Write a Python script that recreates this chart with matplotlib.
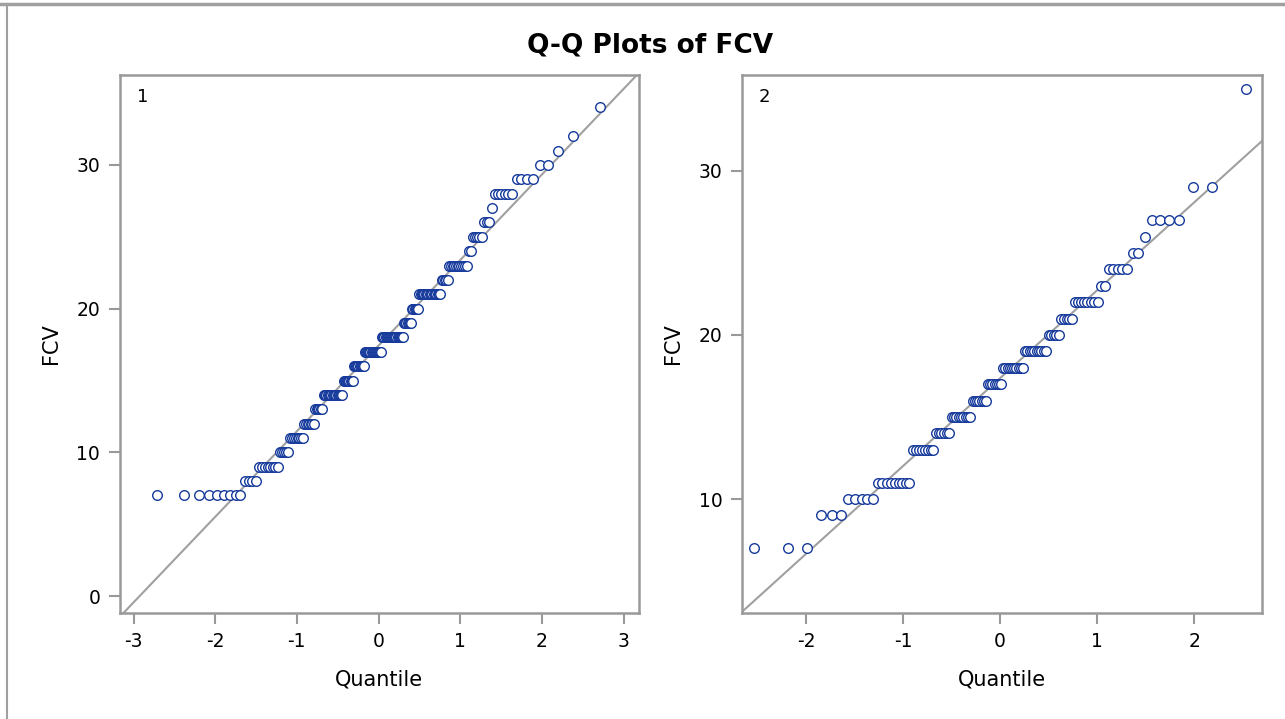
# Q-Q plots of FCV for the two groups

from statistics import NormalDist
import numpy as np
import matplotlib
matplotlib.use("Agg")
import matplotlib.pyplot as plt

# group 1: observed FCV values and how many times each one occurs
fcv_values_1 = [7, 8, 9, 10, 11, 12, 13, 14, 15, 16, 17, 18, 19, 20, 21, 22, 23, 24, 25, 26, 27, 28, 29, 30, 31, 32, 34]
fcv_counts_1 = [9, 4, 8, 5, 8, 7, 6, 16, 9, 10, 16, 20, 7, 6, 17, 5, 11, 2, 5, 3, 1, 6, 4, 2, 1, 1, 1]

# group 2
fcv_values_2 = [7, 9, 10, 11, 13, 14, 15, 16, 17, 18, 19, 20, 21, 22, 23, 24, 25, 26, 27, 29, 35]
fcv_counts_2 = [3, 3, 5, 9, 8, 6, 9, 7, 7, 10, 10, 5, 5, 8, 2, 5, 2, 1, 4, 2, 1]

x_ticks_1 = [-3, -2, -1, 0, 1, 2, 3]
y_ticks_1 = [0, 10, 20, 30]
x_ticks_2 = [-2, -1, 0, 1, 2]
y_ticks_2 = [10, 20, 30]

marker_color = "#163a9c"
frame_color = "#999999"
line_color = "#a0a0a0"

plt.rcParams["font.family"] = ["DejaVu Sans"]


def qq_points(values, counts):
  data = np.repeat(values, counts).astype(float)
  n = len(data)
  nd = NormalDist()
  # Blom plotting positions, as used by PROC UNIVARIATE
  q = np.array([nd.inv_cdf((i - 0.375) / (n + 0.25)) for i in range(1, n + 1)])
  return q, np.sort(data)


def draw_panel(ax, values, counts, label, xticks, yticks, xlim, ylim):
  q, data = qq_points(values, counts)
  mu = data.mean()
  sigma = data.std(ddof=1)

  xs = np.array(xlim)
  ax.plot(xs, mu + sigma * xs, color=line_color, lw=1.5, zorder=1)
  ax.scatter(q, data, s=48, facecolors="white", edgecolors=marker_color, linewidths=1.0, zorder=2)

  ax.set_xlim(*xlim)
  ax.set_ylim(*ylim)
  ax.set_xticks(xticks)
  ax.set_yticks(yticks)
  ax.set_xticklabels([str(t) for t in xticks])
  ax.set_xlabel("Quantile", fontsize=15, labelpad=13)
  ax.set_ylabel("FCV", fontsize=15, labelpad=11)
  ax.tick_params(axis="both", labelsize=13.5, direction="out", length=8, width=1.5, color=frame_color, pad=6)
  for sp in ax.spines.values():
    sp.set_color(frame_color)
    sp.set_linewidth(1.8)
  ax.text(0.033, 0.975, label, transform=ax.transAxes, fontsize=13, va="top", ha="left")


fig = plt.figure(figsize=(12.85, 7.19), dpi=100)
fig.patch.set_facecolor("white")

ax1 = fig.add_axes([0.0931, 0.1474, 0.4042, 0.7483])
ax2 = fig.add_axes([0.5774, 0.1474, 0.4047, 0.7483])

draw_panel(ax1, fcv_values_1, fcv_counts_1, "1", x_ticks_1, y_ticks_1, (-3.17, 3.19), (-1.18, 36.26))
draw_panel(ax2, fcv_values_2, fcv_counts_2, "2", x_ticks_2, y_ticks_2, (-2.66, 2.70), (3.05, 35.85))

fig.text(0.506, 0.937, "Q-Q Plots of FCV", ha="center", va="center", fontsize=19, fontweight="bold")

# outer window frame (top and left edge)
fig.add_artist(plt.Line2D([0, 1], [1 - 4 / 719, 1 - 4 / 719], color="#a0a0a0", lw=2.5, transform=fig.transFigure))
fig.add_artist(plt.Line2D([7 / 1285, 7 / 1285], [0, 1 - 4 / 719], color="#a0a0a0", lw=1.5, transform=fig.transFigure))

fig.savefig("out.png", dpi=100, facecolor=fig.get_facecolor())
